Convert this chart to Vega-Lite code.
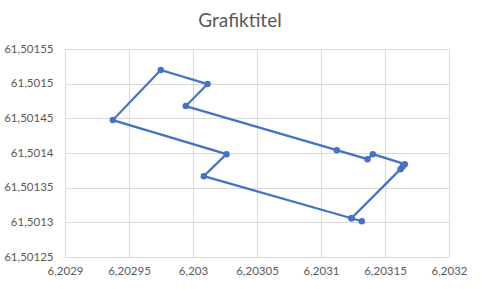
{
  "$schema": "https://vega.github.io/schema/vega-lite/v6.json",
  "width": 384,
  "height": 208,
  "autosize": {"type": "none"},
  "padding": {"left": 65, "top": 49, "right": 32, "bottom": 32},
  "background": "white",
  "title": {
    "text": "Grafiktitel",
    "font": "Lato",
    "fontSize": 19,
    "fontWeight": "normal",
    "color": "#595959",
    "anchor": "middle",
    "dx": -17,
    "offset": 12
  },
  "data": {
    "values": [
      {"order": 1, "x": 6.20313188, "y": 61.50130159},
      {"order": 2, "x": 6.20312383, "y": 61.50130592},
      {"order": 3, "x": 6.20316211, "y": 61.50137669},
      {"order": 4, "x": 6.20316367, "y": 61.50138001},
      {"order": 5, "x": 6.20316547, "y": 61.50138391},
      {"order": 6, "x": 6.20314047, "y": 61.50139835},
      {"order": 7, "x": 6.20313633, "y": 61.50139113},
      {"order": 8, "x": 6.20311234, "y": 61.50140413},
      {"order": 9, "x": 6.20299438, "y": 61.50146768},
      {"order": 10, "x": 6.20301133, "y": 61.50149945},
      {"order": 11, "x": 6.20297484, "y": 61.50151967},
      {"order": 12, "x": 6.20293734, "y": 61.50144746},
      {"order": 13, "x": 6.20302617, "y": 61.50139835},
      {"order": 14, "x": 6.20300844, "y": 61.50136658},
      {"order": 15, "x": 6.20312383, "y": 61.50130592}
    ]
  },
  "encoding": {
    "x": {
      "field": "x",
      "type": "quantitative",
      "scale": {"domain": [6.2029, 6.2032], "zero": false, "nice": false},
      "axis": {
        "title": null,
        "values": [6.2029, 6.20295, 6.203, 6.20305, 6.2031, 6.20315, 6.2032],
        "labelExpr": "replace(format(datum.value, '.5~f'), '.', ',')",
        "labelFlush": false,
        "domain": false,
        "ticks": false,
        "grid": true,
        "gridColor": "#d9d9d9",
        "gridWidth": 1,
        "labelFont": "Lato",
        "labelFontSize": 11.5,
        "labelColor": "#595959",
        "labelPadding": 8
      }
    },
    "y": {
      "field": "y",
      "type": "quantitative",
      "scale": {"domain": [61.50125, 61.50155], "zero": false, "nice": false},
      "axis": {
        "title": null,
        "values": [61.50125, 61.5013, 61.50135, 61.5014, 61.50145, 61.5015, 61.50155],
        "labelExpr": "replace(format(datum.value, '.5~f'), '.', ',')",
        "labelFlush": false,
        "domain": false,
        "ticks": false,
        "grid": true,
        "gridColor": "#d9d9d9",
        "gridWidth": 1,
        "labelFont": "Lato",
        "labelFontSize": 11.5,
        "labelColor": "#595959",
        "labelPadding": 12
      }
    },
    "order": {"field": "order", "type": "quantitative"}
  },
  "layer": [
    {"mark": {"type": "line", "color": "#4472C4", "strokeWidth": 2.25}},
    {"mark": {"type": "point", "filled": true, "opacity": 1, "color": "#4472C4", "size": 42}}
  ],
  "config": {"view": {"stroke": null}}
}
